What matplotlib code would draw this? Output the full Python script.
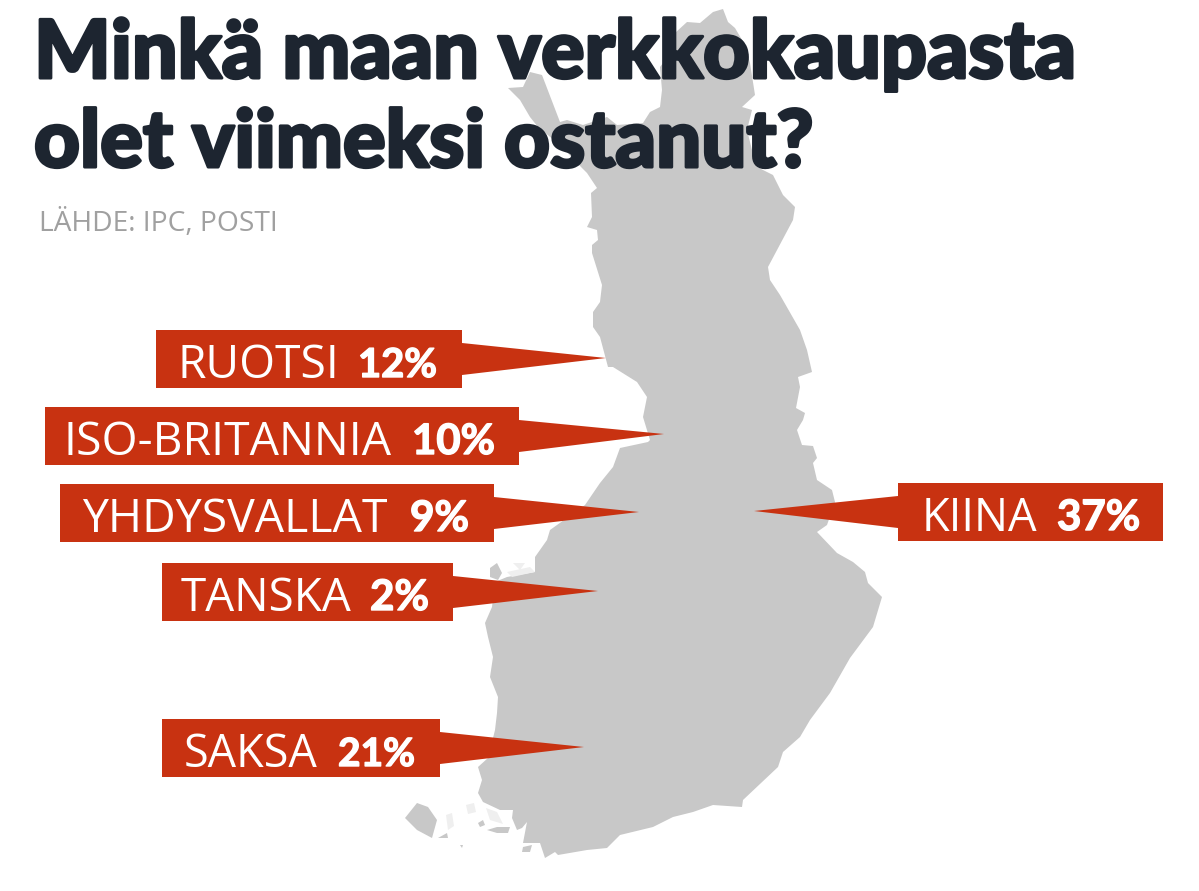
import matplotlib
matplotlib.use("Agg")
import matplotlib.pyplot as plt
import matplotlib.patheffects as pe
from matplotlib.patches import Polygon, Rectangle

# --- data ---
countries = ["RUOTSI", "ISO-BRITANNIA", "YHDYSVALLAT", "TANSKA", "SAKSA", "KIINA"]
shares = [12, 10, 9, 2, 21, 37]
title_lines = ["Minkä maan verkkokaupasta", "olet viimeksi ostanut?"]
source = "LÄHDE: IPC, POSTI"

# --- layout (pixel coordinates) ---
box_left = [156, 45, 60, 162, 162, 898]
box_right = [462, 519, 494, 453, 440, 1163]
box_top = [330, 407, 484, 563, 719, 483]
tip_xy = [(606, 358), (664, 434), (639, 512), (598, 591), (584, 747), (754, 511)]
name_span = [(178, 340), (64, 393), (82, 388), (181, 352), (184, 318), (922, 1038)]
value_span = [(357, 438), (411, 496), (409, 470), (369, 430), (337, 416), (1056, 1141)]
BOX_H = 58

finland = [
    (723, 9), (728, 22), (735, 28), (745, 45), (750, 63), (755, 95), (742, 107), (752, 110),
    (747, 130), (752, 150), (757, 167), (773, 175), (783, 195), (795, 207), (793, 220), (768, 267),
    (770, 280), (780, 295), (800, 330), (807, 350), (812, 372), (798, 377), (800, 387), (796, 408),
    (805, 413), (803, 420), (797, 430), (802, 445), (813, 446), (817, 458), (813, 463), (817, 480),
    (832, 490), (835, 502), (827, 525), (817, 532), (837, 553), (853, 562), (865, 572), (868, 583),
    (882, 597), (873, 627), (850, 658), (830, 693), (810, 720), (800, 737), (783, 752), (778, 767),
    (743, 800), (742, 807), (713, 805), (693, 812), (673, 817), (653, 827), (620, 835), (607, 848),
    (587, 850), (558, 855), (555, 852), (545, 858), (540, 843), (523, 843), (527, 822), (522, 828),
    (517, 830), (512, 818), (513, 810), (500, 810), (483, 802), (478, 793), (482, 780), (478, 767),
    (488, 758), (495, 730), (497, 713), (498, 697), (490, 677), (493, 657), (488, 637), (485, 623),
    (492, 607), (495, 582), (507, 577), (535, 572), (535, 557), (547, 540), (550, 530), (585, 505),
    (600, 483), (613, 467), (620, 448), (648, 442), (650, 440), (643, 417), (647, 397), (637, 382),
    (613, 367), (608, 367), (600, 337), (593, 327), (593, 312), (600, 302), (602, 285), (592, 253),
    (592, 245), (598, 240), (597, 230), (587, 227), (592, 217), (591, 193), (597, 188), (587, 173),
    (582, 168), (560, 145), (538, 127), (530, 117), (520, 100), (508, 88), (523, 87), (530, 72),
    (542, 75), (560, 122), (567, 120), (583, 125), (607, 117), (617, 125), (643, 123), (650, 112),
    (660, 107), (662, 90), (660, 67), (673, 50), (675, 33), (687, 22), (700, 23), (713, 12),
]
islands = [
    [(405, 818), (417, 803), (428, 807), (437, 820), (432, 838), (417, 830)],
    [(490, 568), (497, 563), (502, 573), (498, 580), (490, 577)],
    [(487, 830), (497, 827), (510, 827), (508, 833), (497, 833)],
    [(478, 823), (483, 820), (485, 825), (480, 827)],
    [(438, 838), (447, 833), (448, 838)],
    [(460, 845), (463, 845), (462, 848)],
    [(523, 847), (532, 845), (530, 852), (522, 852)],
]
pale_islets = [
    [(507, 572), (530, 567), (535, 572), (512, 577)],
    [(513, 563), (525, 563), (520, 570)],
    [(466, 805), (474, 803), (476, 812), (468, 814)],
    [(486, 808), (497, 812), (503, 824), (490, 820)],
    [(446, 815), (452, 813), (454, 826), (448, 830)],
]

RED = "#c83211"
GREY = "#c8c8c8"
INK = "#1d2530"

fig = plt.figure(figsize=(11.99, 8.91), dpi=100, facecolor="white")
ax = fig.add_axes([0, 0, 1, 1])
ax.set_xlim(0, 1199)
ax.set_ylim(891, 0)
ax.axis("off")

ax.add_patch(Polygon(finland, closed=True, fc=GREY, ec="none", zorder=1))
for isl in islands:
    ax.add_patch(Polygon(isl, closed=True, fc=GREY, ec="none", zorder=1))
for isl in pale_islets:
    ax.add_patch(Polygon(isl, closed=True, fc="#efefef", ec="none", zorder=1))

renderer = fig.canvas.get_renderer()


def fitted(x0, x1, baseline, s, size, stroke=0, **kw):
    """Real text scaled in size so that its ink spans x0..x1."""
    t = ax.text(x0, baseline, s, fontsize=size, va="baseline", ha="left", **kw)
    w = t.get_window_extent(renderer).width
    t.set_fontsize(size * (x1 - x0) / w)
    if stroke:
        t.set_path_effects([pe.withStroke(linewidth=stroke, foreground=kw["color"])])
    return t


for name, val, l, r, top, tip, ns, vs in zip(
    countries, shares, box_left, box_right, box_top, tip_xy, name_span, value_span
):
    ymid = top + BOX_H / 2
    base_x = l if tip[0] < l else r
    ax.add_patch(Rectangle((l, top), r - l, BOX_H, fc=RED, ec="none", zorder=3))
    ax.add_patch(Polygon([(base_x, ymid - 16), tip, (base_x, ymid + 16)], closed=True,
                         fc=RED, ec="none", zorder=3))
    fitted(ns[0], ns[1], top + 48, name, 33, color="white", family="Open Sans", zorder=4)
    fitted(vs[0] + 1, vs[1] - 1, top + 47, f"{val}%", 33, stroke=1.0, color="white",
           family="Lato", fontweight="bold", zorder=4)

fitted(34, 1077, 78, title_lines[0], 60, stroke=2.2, color=INK, family="Lato",
       fontweight="black", zorder=5)
fitted(34, 814, 167, title_lines[1], 60, stroke=2.2, color=INK, family="Lato",
       fontweight="black", zorder=5)
fitted(39, 278, 231, source, 19, color="#a0a0a0", family="Open Sans", zorder=5)

fig.savefig("out.png", dpi=100, facecolor="white")
